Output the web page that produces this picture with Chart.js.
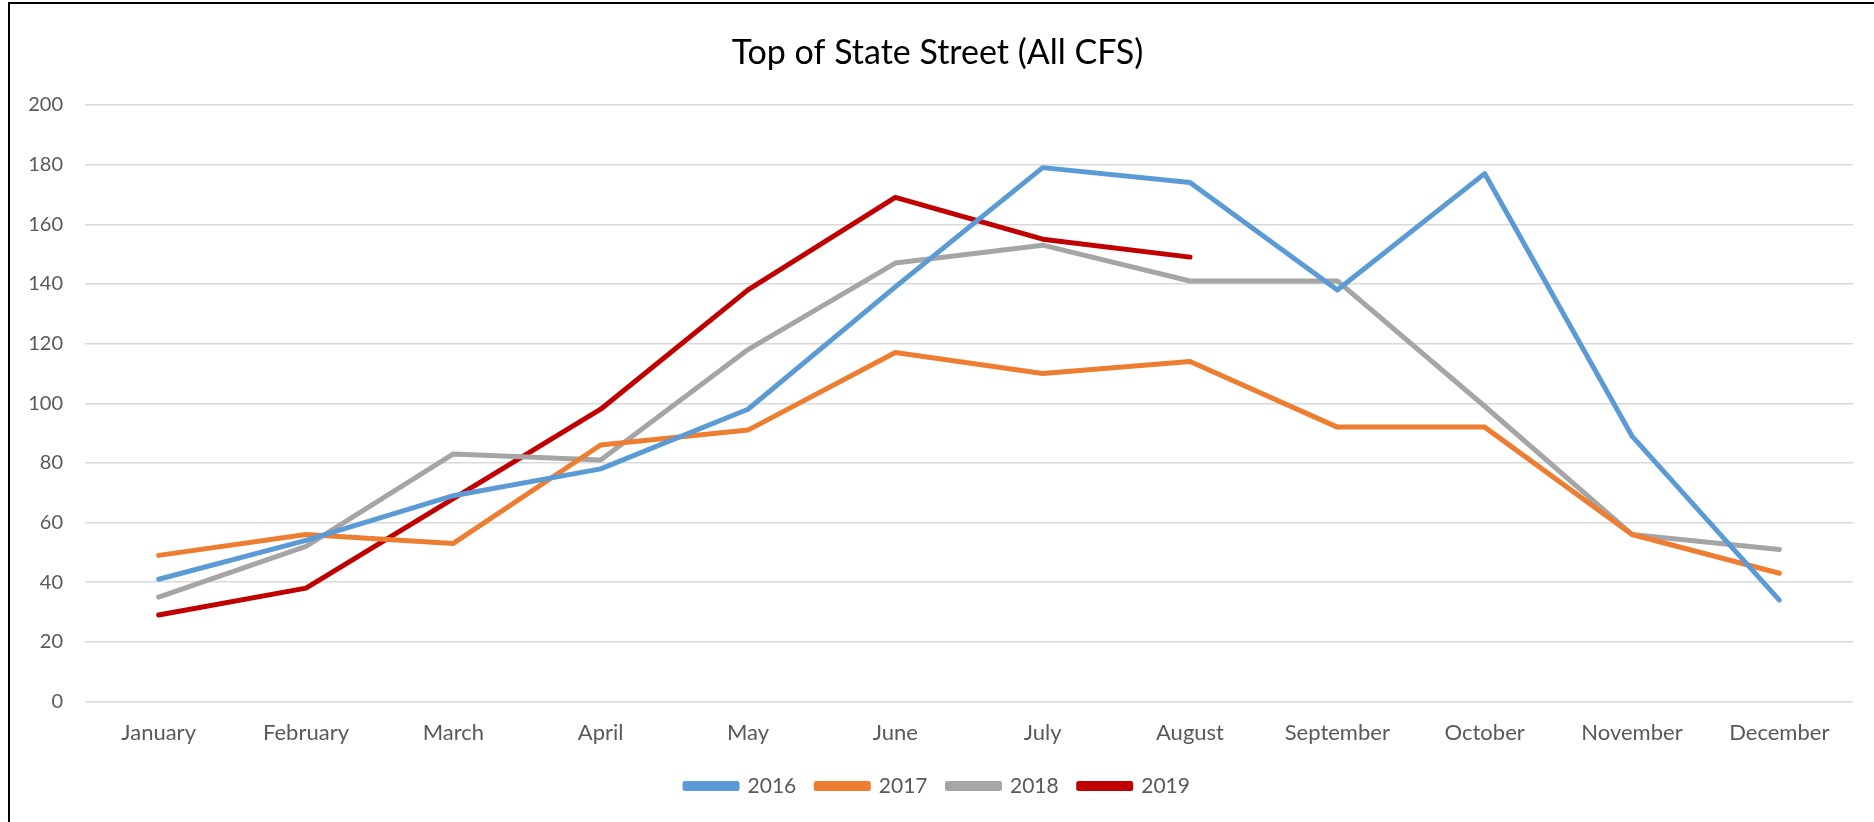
<!DOCTYPE html>
<html>
<head>
<meta charset="utf-8">
<script src="https://cdn.jsdelivr.net/npm/chart.js@4/dist/chart.umd.min.js"></script>
<style>
    body { margin: 0; background: #fff; }
    .wrap { position: relative; width: 1874px; height: 822px; }
    .frame { position: absolute; left: 8px; top: 2px; right: 0; bottom: 0; border-left: 2px solid #000; border-top: 2px solid #000; pointer-events: none; }
</style>
</head>
<body>
<div class="wrap">
    <canvas id="chart" width="1874" height="822"></canvas>
    <div class="frame"></div>
</div>
<script>
const months = ['January', 'February', 'March', 'April', 'May', 'June', 'July', 'August', 'September', 'October', 'November', 'December'];
const data2016 = [41, 54, 69, 78, 98, 139, 179, 174, 138, 177, 89, 34];
const data2017 = [49, 56, 53, 86, 91, 117, 110, 114, 92, 92, 56, 43];
const data2018 = [35, 52, 83, 81, 118, 147, 153, 141, 141, 99, 56, 51];
const data2019 = [29, 38, 68, 98, 138, 169, 155, 149, null, null, null, null];
const yTicks = [0, 20, 40, 60, 80, 100, 120, 140, 160, 180, 200];

const font = "Lato, 'Open Sans', sans-serif";

function line(label, values, color) {
    return {
        label: label,
        data: values,
        borderColor: color,
        backgroundColor: color,
        borderWidth: 5,
        pointRadius: 0,
        tension: 0,
        spanGaps: false,
        borderCapStyle: 'round',
        borderJoinStyle: 'round'
    };
}

const ctx = document.getElementById('chart').getContext('2d');
const myChart = new Chart(ctx, {
    type: 'line',
    data: {
        labels: months,
        datasets: [
            line('2016', data2016, '#5B9BD5'),
            line('2017', data2017, '#ED7D31'),
            line('2018', data2018, '#A5A5A5'),
            line('2019', data2019, '#C00000')
        ]
    },
    options: {
        responsive: false,
        animation: false,
        layout: { padding: { left: 22, right: 21, top: 4, bottom: 15.5 } },
        scales: {
            x: {
                offset: true,
                afterFit: function (scale) { scale.height = 54; },
                grid: { display: false, drawTicks: false },
                border: { display: false },
                ticks: { color: '#595959', font: { family: font, size: 22 }, padding: 17.8, maxRotation: 0 }
            },
            y: {
                min: 0,
                max: 200,
                afterFit: function (scale) { scale.width = 63; },
                afterBuildTicks: function (scale) { scale.ticks = yTicks.map(v => ({ value: v })); },
                grid: { color: '#D9D9D9', lineWidth: 1.5, drawTicks: false },
                border: { display: false },
                ticks: { color: '#595959', font: { family: font, size: 20 }, padding: 22 }
            }
        },
        plugins: {
            title: {
                display: true,
                text: 'Top of State Street (All CFS)',
                color: '#000',
                font: { family: font, size: 34, weight: 'normal' },
                padding: { top: 28.6, bottom: 31.6 }
            },
            legend: {
                position: 'bottom',
                labels: {
                    color: '#595959',
                    font: { family: font, size: 21 },
                    boxWidth: 52,
                    boxHeight: 5,
                    padding: 20
                }
            },
            tooltip: { enabled: false }
        }
    }
});
</script>
</body>
</html>
